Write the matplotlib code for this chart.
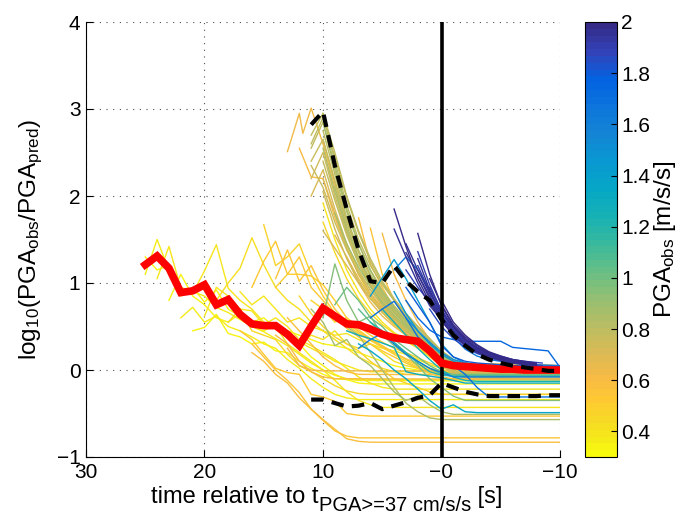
import matplotlib
matplotlib.use("Agg")
import matplotlib.pyplot as plt
from matplotlib.colors import LinearSegmentedColormap, Normalize
from matplotlib.cm import ScalarMappable

plt.rcParams['font.family'] = ['Liberation Sans', 'DejaVu Sans']
plt.rcParams['mathtext.default'] = 'regular'

# ---------------------------------------------------------------------------
# Station traces: (time [s], log10(PGA_obs/PGA_pred)) vertices, and PGA_obs [m/s/s]
# ---------------------------------------------------------------------------
navy_pga = [1.98, 1.95, 1.99, 1.92, 1.96, 1.90, 1.97, 1.88, 1.93, 1.99, 1.91, 1.87, 1.94, 1.89, 1.97, 1.95, 1.86, 1.98]
navy_paths = [
    [(4, 1.85), (3, 1.42), (2, 1.05), (1, 0.78), (0, 0.56), (-1, 0.40), (-2, 0.29), (-3, 0.21), (-4, 0.16), (-5, 0.12), (-6, 0.09), (-7, 0.07), (-8, 0.05)],
    [(4, 1.62), (3, 1.30), (2, 1.00), (1, 0.74), (0, 0.58), (-1, 0.42), (-2, 0.31), (-3, 0.23), (-4, 0.17), (-5, 0.13), (-6, 0.10), (-7, 0.08), (-8, 0.06)],
    [(2, 1.57), (1, 1.10), (0, 0.74), (-1, 0.50), (-2, 0.35), (-3, 0.25), (-4, 0.19), (-5, 0.14), (-6, 0.11), (-7, 0.09), (-8, 0.07)],
    [(2, 1.36), (1, 0.98), (0, 0.68), (-1, 0.46), (-2, 0.33), (-3, 0.24), (-4, 0.18), (-5, 0.13), (-6, 0.10), (-7, 0.08), (-8, 0.06)],
    [(2, 1.28), (1, 0.92), (0, 0.64), (-1, 0.44), (-2, 0.31), (-3, 0.22), (-4, 0.16), (-5, 0.12), (-6, 0.09), (-7, 0.07), (-8, 0.05)],
    [(2, 1.20), (1, 0.90), (0, 0.66), (-1, 0.50), (-2, 0.36), (-3, 0.26), (-4, 0.19), (-5, 0.14), (-6, 0.11), (-7, 0.09), (-8, 0.07)],
    [(3, 1.35), (2, 1.10), (1, 0.85), (0, 0.62), (-1, 0.44), (-2, 0.31), (-3, 0.23), (-4, 0.17), (-5, 0.13), (-6, 0.10), (-7, 0.08), (-8, 0.06)],
    [(3, 1.15), (2, 0.95), (1, 0.78), (0, 0.58), (-1, 0.40), (-2, 0.28), (-3, 0.20), (-4, 0.15), (-5, 0.11), (-6, 0.09), (-7, 0.07), (-8.5, 0.05)],
    [(1, 0.95), (0, 0.68), (-1, 0.46), (-2, 0.33), (-3, 0.24), (-4, 0.18), (-5, 0.13), (-6, 0.10), (-7, 0.08), (-8, 0.06)],
    [(1, 1.05), (0, 0.75), (-1, 0.52), (-2, 0.38), (-3, 0.28), (-4, 0.20), (-5, 0.15), (-6, 0.12), (-7, 0.09), (-8, 0.07)],
    [(1, 0.85), (0, 0.58), (-1, 0.40), (-2, 0.28), (-3, 0.20), (-4, 0.15), (-5, 0.11), (-6, 0.09), (-7, 0.07), (-8, 0.05)],
    [(1, 0.80), (0, 0.62), (-1, 0.44), (-2, 0.34), (-3, 0.26), (-4, 0.20), (-5, 0.16), (-6, 0.12), (-7, 0.10), (-8.5, 0.08)],
    [(0, 0.70), (-1, 0.48), (-2, 0.34), (-3, 0.25), (-4, 0.19), (-5, 0.14), (-6, 0.11), (-7, 0.08), (-8, 0.06)],
    [(0, 0.62), (-1, 0.40), (-2, 0.28), (-3, 0.20), (-4, 0.15), (-5, 0.12), (-6, 0.09), (-7, 0.07), (-8, 0.05)],
    [(2, 1.10), (1, 0.82), (0, 0.58), (-1, 0.40), (-2, 0.29), (-3, 0.21), (-4, 0.15), (-5, 0.11), (-6, 0.08), (-7, 0.06), (-8, 0.05)],
    [(3, 1.45), (2, 1.15), (1, 0.88), (0, 0.66), (-1, 0.50), (-2, 0.36), (-3, 0.26), (-4, 0.19), (-5, 0.14), (-6, 0.11), (-7, 0.09), (-8, 0.07)],
    [(1, 0.70), (0, 0.50), (-1, 0.36), (-2, 0.26), (-3, 0.19), (-4, 0.14), (-5, 0.11), (-6, 0.09), (-7.5, 0.07)],
    [(0, 0.80), (-1, 0.55), (-2, 0.40), (-3, 0.29), (-4, 0.21), (-5, 0.16), (-6, 0.12), (-7, 0.10), (-8, 0.08)],
]

blue_pga = [1.75, 1.70, 1.65, 1.80, 1.60]
blue_paths = [
    [(3, 0.80), (2, 0.60), (1, 0.46), (0, 0.38), (-1, 0.35), (-2, 0.33), (-5, 0.33), (-6, 0.26), (-9, 0.22), (-10, 0.03)],
    [(6, 0.60), (5, 0.70), (4, 0.79), (3, 0.60), (2, 0.38), (1, 0.25), (0, 0.12), (-1, 0.05), (-2, -0.05), (-3, -0.20), (-4, -0.31), (-10, -0.31)],
    [(4, 1.15), (3, 1.30), (2, 1.15), (1, 0.92), (0, 0.60), (-1, 0.38), (-2, 0.24), (-3, 0.16), (-4, 0.12), (-5, 0.10), (-6, 0.08), (-8, 0.06), (-10, 0.05)],
    [(3, 0.95), (2, 0.75), (1, 0.55), (0, 0.28), (-1, 0.15), (-2, 0.10), (-3, 0.08), (-4, 0.07), (-6, 0.05), (-10, 0.04)],
    [(7, 0.25), (6, 0.35), (5, 0.42), (4, 0.30), (3, 0.18), (2, 0.10), (1, 0.02), (0, -0.03), (-1, -0.08), (-10, -0.08)],
]

teal_pga = [1.42, 1.30, 1.35, 1.25, 1.45, 1.50, 1.20]
teal_paths = [
    [(6, 0.85), (5, 1.06), (4, 1.27), (3, 1.05), (2, 0.80), (1, 0.55), (0, 0.30), (-1, 0.15), (-2, 0.08), (-3, 0.05), (-5, 0.03), (-10, 0.02)],
    [(8, 0.45), (7, 0.40), (6, 0.36), (5, 0.31), (4, 0.26), (3, -0.02), (2, -0.05), (1, -0.07), (0, -0.09), (-1, -0.12), (-2, -0.15), (-10, -0.15)],
    [(7, 0.30), (6, 0.22), (5, 0.12), (4, 0.00), (3, -0.10), (2, -0.22), (1, -0.35), (0, -0.45), (-1, -0.40), (-2, -0.48), (-3, -0.49), (-10, -0.49)],
    [(5, 0.70), (4, 0.55), (3, 0.40), (2, 0.25), (1, 0.12), (0, 0.00), (-1, -0.08), (-2, -0.12), (-3, -0.13), (-10, -0.13)],
    [(4, 0.90), (3, 0.65), (2, 0.45), (1, 0.30), (0, 0.18), (-1, 0.10), (-2, 0.06), (-3, 0.04), (-6, 0.02), (-10, 0.01)],
    [(3, 0.60), (2, 0.45), (1, 0.32), (0, 0.20), (-1, 0.12), (-2, 0.08), (-4, 0.05), (-10, 0.03)],
    [(6, 0.55), (5, 0.45), (4, 0.32), (3, 0.20), (2, 0.08), (1, -0.02), (0, -0.06), (-1, -0.07), (-10, -0.07)],
]

olive_pga = [1.00, 0.95, 0.88, 0.85, 1.05]
olive_paths = [
    [(9, 0.75), (8, 0.95), (7, 0.80), (6, 0.60), (5, 0.50), (4, 0.35), (3, 0.25), (2, 0.15), (1, 0.05), (0, -0.02), (-1, -0.05), (-10, -0.05)],
    [(10, 0.60), (9, 1.22), (8, 0.80), (7, 0.55), (6, 0.62), (5, 0.40), (4, 0.28), (3, 0.18), (2, 0.05), (1, -0.10), (0, -0.20), (-1, -0.30), (-2, -0.35), (-10, -0.35)],
    [(11, 0.70), (10, 0.55), (9, 0.28), (8, 0.35), (7, 0.15), (6, 0.05), (5, -0.10), (4, -0.25), (3, -0.35), (2, -0.30), (1, -0.40), (0, -0.48), (-1, -0.51), (-10, -0.51)],
    [(8, 0.50), (7, 0.40), (6, 0.20), (5, 0.00), (4, -0.20), (3, -0.38), (2, -0.48), (1, -0.55), (0, -0.57), (-10, -0.57)],
    [(7, 0.70), (6, 0.55), (5, 0.42), (4, 0.30), (3, 0.20), (2, 0.10), (1, 0.02), (0, -0.05), (-1, -0.07), (-10, -0.07)],
]

tan_pga = [0.80, 0.78, 0.82, 0.76, 0.84, 0.74, 0.80, 0.72, 0.86, 0.78, 0.70, 0.82, 0.75, 0.88, 0.79,
           0.72, 0.68, 0.66, 0.77, 0.74]
tan_paths = [
    [(11, 2.70), (10, 2.95), (9, 2.40), (8, 1.90), (7, 1.50), (6, 1.20), (5, 0.98), (4, 0.80), (3, 0.64), (2, 0.50), (1, 0.36), (0, 0.22), (-1, 0.12), (-2, 0.06), (-3, 0.03), (-10, 0.02)],
    [(11, 2.55), (10, 2.85), (9, 2.30), (8, 1.82), (7, 1.45), (6, 1.15), (5, 0.92), (4, 0.74), (3, 0.58), (2, 0.45), (1, 0.32), (0, 0.18), (-1, 0.08), (-2, 0.02), (-3, -0.01), (-10, -0.02)],
    [(10, 2.75), (9, 2.25), (8, 1.75), (7, 1.38), (6, 1.10), (5, 0.88), (4, 0.70), (3, 0.55), (2, 0.42), (1, 0.30), (0, 0.15), (-1, 0.05), (-2, 0.00), (-10, -0.03)],
    [(11, 2.40), (10, 2.65), (9, 2.15), (8, 1.70), (7, 1.35), (6, 1.08), (5, 0.86), (4, 0.68), (3, 0.52), (2, 0.38), (1, 0.25), (0, 0.10), (-1, 0.00), (-2, -0.05), (-10, -0.06)],
    [(10, 2.55), (9, 2.05), (8, 1.62), (7, 1.28), (6, 1.02), (5, 0.82), (4, 0.66), (3, 0.52), (2, 0.40), (1, 0.28), (0, 0.14), (-1, 0.06), (-2, 0.02), (-10, 0.01)],
    [(11, 2.20), (10, 2.50), (9, 2.00), (8, 1.58), (7, 1.25), (6, 0.98), (5, 0.78), (4, 0.62), (3, 0.48), (2, 0.35), (1, 0.22), (0, 0.08), (-1, -0.02), (-2, -0.06), (-10, -0.08)],
    [(10, 2.40), (9, 1.95), (8, 1.55), (7, 1.22), (6, 0.96), (5, 0.76), (4, 0.60), (3, 0.46), (2, 0.34), (1, 0.22), (0, 0.10), (-1, 0.03), (-10, 0.00)],
    [(11, 2.00), (10, 2.30), (9, 1.85), (8, 1.45), (7, 1.15), (6, 0.92), (5, 0.74), (4, 0.58), (3, 0.45), (2, 0.32), (1, 0.20), (0, 0.06), (-1, -0.04), (-2, -0.08), (-10, -0.10)],
    [(10, 2.85), (9, 2.35), (8, 1.85), (7, 1.45), (6, 1.14), (5, 0.90), (4, 0.72), (3, 0.56), (2, 0.43), (1, 0.30), (0, 0.16), (-1, 0.07), (-2, 0.03), (-10, 0.02)],
    [(11, 2.60), (10, 2.90), (9, 2.45), (8, 1.98), (7, 1.58), (6, 1.25), (5, 1.00), (4, 0.80), (3, 0.62), (2, 0.48), (1, 0.34), (0, 0.20), (-1, 0.10), (-2, 0.04), (-10, 0.03)],
    [(10, 2.20), (9, 1.80), (8, 1.40), (7, 1.10), (6, 0.88), (5, 0.70), (4, 0.55), (3, 0.42), (2, 0.30), (1, 0.18), (0, 0.05), (-1, -0.05), (-2, -0.09), (-10, -0.11)],
    [(9, 2.10), (8, 1.66), (7, 1.30), (6, 1.04), (5, 0.84), (4, 0.67), (3, 0.53), (2, 0.40), (1, 0.28), (0, 0.12), (-1, 0.04), (-10, 0.00)],
    [(10, 2.65), (9, 2.18), (8, 1.72), (7, 1.36), (6, 1.08), (5, 0.87), (4, 0.70), (3, 0.55), (2, 0.41), (1, 0.27), (0, 0.12), (-1, 0.02), (-2, -0.03), (-10, -0.04)],
    [(9, 1.80), (8, 1.45), (7, 1.18), (6, 0.96), (5, 0.78), (4, 0.63), (3, 0.50), (2, 0.38), (1, 0.26), (0, 0.12), (-1, 0.05), (-10, 0.03)],
    [(10, 2.95), (9, 2.50), (8, 2.00), (7, 1.60), (6, 1.28), (5, 1.02), (4, 0.82), (3, 0.65), (2, 0.50), (1, 0.36), (0, 0.22), (-1, 0.12), (-2, 0.07), (-10, 0.05)],
    [(10, 1.60), (9, 1.40), (8, 1.20), (7, 1.00), (6, 0.82), (5, 0.68), (4, 0.55), (3, 0.44), (2, 0.34), (1, 0.22), (0, 0.08), (-1, -0.02), (-10, -0.06)],
    [(9, 1.55), (8, 1.30), (7, 1.05), (6, 0.85), (5, 0.70), (4, 0.56), (3, 0.45), (2, 0.32), (1, 0.20), (0, 0.06), (-1, -0.03), (-10, -0.05)],
    [(8, 1.30), (7, 1.00), (6, 0.78), (5, 0.62), (4, 0.50), (3, 0.40), (2, 0.30), (1, 0.18), (0, 0.04), (-10, -0.02)],
    [(11, 2.35), (10, 2.10), (9, 1.70), (8, 1.38), (7, 1.12), (6, 0.92), (5, 0.75), (4, 0.60), (3, 0.48), (2, 0.36), (1, 0.24), (0, 0.10), (-1, 0.02), (-10, -0.01)],
    [(10, 2.05), (9, 1.62), (8, 1.28), (7, 1.02), (6, 0.82), (5, 0.66), (4, 0.53), (3, 0.42), (2, 0.31), (1, 0.20), (0, 0.07), (-1, -0.02), (-10, -0.04)],
]

orange_pga = [0.62, 0.60, 0.58, 0.55, 0.60, 0.45, 0.42, 0.40]
orange_paths = [
    [(13, 2.51), (12, 2.95), (11.7, 2.72), (11, 3.01), (10, 2.60), (9, 2.10), (8, 1.60), (7, 1.25), (6, 1.00), (5, 0.80), (4, 0.65), (3, 0.52), (2, 0.40), (1, 0.28), (0, 0.15), (-1, 0.08), (-10, 0.05)],
    [(12, 2.55), (11, 2.22), (10, 2.20), (9, 1.75), (8, 1.40), (7, 1.10), (6, 0.88), (5, 0.72), (4, 0.58), (3, 0.46), (2, 0.35), (1, 0.24), (0, 0.12), (-1, 0.04), (-10, 0.00)],
    [(7, 1.75), (6, 1.22), (5, 0.95), (4, 0.70), (3, 0.50), (2, 0.35), (1, 0.22), (0, 0.10), (-1, 0.02), (-10, -0.01)],
    [(6, 1.63), (5, 1.10), (4, 0.80), (3, 0.58), (2, 0.40), (1, 0.26), (0, 0.12), (-1, 0.04), (-10, 0.02)],
    [(5, 1.57), (4, 1.10), (3, 0.80), (2, 0.55), (1, 0.35), (0, 0.18), (-1, 0.08), (-10, 0.05)],
    [(10, 1.70), (9, 1.35), (8, 1.05), (7, 0.82), (6, 0.65), (5, 0.52), (4, 0.42), (3, 0.33), (2, 0.25), (1, 0.15), (0, 0.05), (-1, -0.02), (-10, -0.05)],
    [(8, 1.45), (7, 1.10), (6, 0.85), (5, 0.66), (4, 0.52), (3, 0.40), (2, 0.30), (1, 0.18), (0, 0.06), (-1, -0.03), (-10, -0.06)],
    [(10, 1.92), (9, 1.50), (8, 1.15), (7, 0.90), (6, 0.70), (5, 0.55), (4, 0.43), (3, 0.34), (2, 0.26), (1, 0.16), (0, 0.06), (-1, 0.00), (-10, -0.02)],
]

yellow_pga = [0.36, 0.40, 0.34, 0.38, 0.42, 0.48, 0.52, 0.55, 0.50, 0.37, 0.33, 0.44,
              0.52, 0.56, 0.58, 0.40, 0.60, 0.62, 0.57, 0.46, 0.35, 0.39, 0.47, 0.43]
yellow_paths = [
    [(25, 1.10), (24, 1.50), (23, 1.14), (22, 0.95), (21, 0.90), (20, 0.85), (19, 0.72), (18, 0.66), (17, 0.58), (16, 0.50), (15, 0.44), (14, 0.36), (13, 0.28), (12, 0.18), (11, 0.08), (10, 0.00), (9, -0.06), (8, -0.10), (7, -0.12), (-10, -0.13)],
    [(24, 1.05), (23, 1.42), (22, 0.94), (21, 0.88), (20, 1.14), (19, 1.44), (18, 0.94), (17, 0.80), (16, 0.70), (15, 0.55), (14, 0.50), (13, 0.40), (12, 0.32), (11, 0.25), (10, 0.18), (9, 0.10), (8, 0.05), (7, 0.00), (6, -0.02), (-10, -0.01)],
    [(25, 1.30), (24, 1.15), (23, 1.20), (22, 0.85), (21, 0.95), (20, 0.78), (19, 0.92), (18, 0.70), (17, 0.62), (16, 0.55), (15, 0.60), (14, 0.48), (13, 0.38), (12, 0.30), (11, 0.15), (10, 0.05), (9, -0.05), (8, -0.11), (7, -0.15), (6, -0.16), (-10, -0.16)],
    [(20, 0.62), (19, 0.95), (18, 0.85), (17, 0.70), (16, 0.68), (15, 0.52), (14, 0.60), (13, 0.50), (12, 0.35), (11, 0.28), (10, 0.20), (9, 0.12), (8, 0.02), (7, -0.08), (6, -0.15), (5, -0.20), (4, -0.22), (-10, -0.22)],
    [(19, 0.80), (18, 1.00), (17, 1.17), (16, 1.52), (15, 1.21), (14, 0.95), (13, 0.80), (12, 0.70), (11, 0.55), (10, 0.45), (9, 0.35), (8, 0.25), (7, 0.15), (6, 0.08), (5, 0.02), (4, -0.02), (3, -0.05), (-10, -0.05)],
    [(15, 1.67), (14, 1.20), (13, 1.30), (12, 1.45), (11, 1.10), (10, 0.85), (9, 0.65), (8, 0.52), (7, 0.42), (6, 0.34), (5, 0.26), (4, 0.18), (3, 0.10), (2, 0.03), (1, -0.02), (0, -0.05), (-10, -0.06)],
    [(16, 0.95), (15, 1.25), (14, 1.48), (13, 1.10), (12, 1.30), (11, 0.95), (10, 0.80), (9, 0.62), (8, 0.48), (7, 0.38), (6, 0.30), (5, 0.22), (4, 0.15), (3, 0.08), (2, 0.02), (1, -0.04), (0, -0.08), (-1, -0.10), (-10, -0.11)],
    [(14, 1.05), (13, 1.38), (12, 1.02), (11, 1.20), (10, 0.92), (9, 0.70), (8, 0.55), (7, 0.44), (6, 0.35), (5, 0.27), (4, 0.20), (3, 0.13), (2, 0.07), (1, 0.02), (0, -0.02), (-1, -0.04), (-10, -0.05)],
    [(14, 0.95), (13, 1.10), (12, 1.10), (11, 1.08), (10, 0.98), (9, 0.80), (8, 0.60), (7, 0.46), (6, 0.36), (5, 0.28), (4, 0.20), (3, 0.12), (2, 0.05), (1, 0.00), (0, -0.04), (-10, -0.05)],
    [(22, 0.60), (21, 0.72), (20, 0.55), (19, 0.62), (18, 0.50), (17, 0.45), (16, 0.38), (15, 0.30), (14, 0.25), (13, 0.12), (12, 0.02), (11, -0.10), (10, -0.20), (9, -0.28), (8, -0.32), (7, -0.34), (-10, -0.34)],
    [(21, 0.45), (20, 0.49), (19, 0.64), (18, 0.42), (17, 0.38), (16, 0.30), (15, 0.32), (14, 0.22), (13, 0.20), (12, 0.10), (11, 0.02), (10, -0.05), (9, -0.10), (8, -0.11), (-10, -0.11)],
    [(18, 0.55), (17, 0.70), (16, 0.45), (15, 0.40), (14, 0.35), (13, 0.18), (12, 0.05), (11, -0.02), (10, -0.10), (9, -0.18), (8, -0.24), (7, -0.27), (6, -0.28), (-10, -0.28)],
    [(17, 0.45), (16, 0.35), (15, 0.18), (14, 0.02), (13, -0.03), (12, -0.05), (11, -0.28), (10, -0.31), (9, -0.36), (8, -0.50), (7, -0.52), (6, -0.53), (-10, -0.53)],
    [(16, 0.30), (15, 0.15), (14, 0.00), (13, -0.12), (12, -0.26), (11, -0.45), (10, -0.58), (9, -0.70), (8, -0.76), (7, -0.78), (-10, -0.78)],
    [(16, 0.20), (15, 0.10), (14, -0.05), (13, -0.15), (12, -0.32), (11, -0.45), (10, -0.57), (9, -0.68), (8, -0.79), (7, -0.82), (6, -0.83), (-10, -0.83)],
    [(15, 0.55), (14, 0.50), (13, 0.30), (12, 0.20), (11, 0.10), (10, 0.00), (9, -0.12), (8, -0.25), (7, -0.35), (6, -0.40), (5, -0.43), (-10, -0.43)],
    [(14, 0.40), (13, 0.30), (12, 0.10), (11, -0.02), (10, -0.08), (9, -0.10), (8, -0.10), (-10, -0.11)],
    [(13, 0.25), (12, 0.05), (11, 0.00), (10, -0.01), (-10, -0.01)],
    [(13, 0.60), (12, 0.45), (11, 0.30), (10, 0.15), (9, 0.05), (8, -0.02), (7, -0.05), (-10, -0.06)],
    [(12, 0.85), (11, 0.65), (10, 0.50), (9, 0.38), (8, 0.30), (7, 0.22), (6, 0.10), (5, 0.00), (4, -0.10), (3, -0.15), (2, -0.20), (1, -0.25), (0, -0.28), (-10, -0.28)],
    [(23, 0.80), (22, 1.10), (21, 0.85), (20, 0.75), (19, 0.60), (18, 0.55), (17, 0.65), (16, 0.50), (15, 0.45), (14, 0.52), (13, 0.45), (12, 0.40), (11, 0.35), (10, 0.30), (9, 0.28), (8, 0.25), (7, 0.20), (6, 0.15), (5, 0.10), (4, 0.05), (3, 0.02), (2, 0.00), (-10, -0.01)],
    [(17, 0.90), (16, 0.75), (15, 0.85), (14, 0.70), (13, 0.55), (12, 0.60), (11, 0.50), (10, 0.45), (9, 0.40), (8, 0.42), (7, 0.35), (6, 0.30), (5, 0.25), (4, 0.22), (3, 0.18), (2, 0.12), (1, 0.06), (0, 0.02), (-10, 0.00)],
    [(11, 0.80), (10, 0.70), (9, 0.55), (8, 0.60), (7, 0.50), (6, 0.40), (5, 0.32), (4, 0.25), (3, 0.20), (2, 0.14), (1, 0.08), (0, 0.03), (-10, 0.02)],
    [(12, 0.30), (11, 0.40), (10, 0.35), (9, 0.45), (8, 0.30), (7, 0.25), (6, 0.30), (5, 0.20), (4, 0.10), (3, 0.05), (2, 0.02), (1, 0.00), (0, -0.03), (-10, -0.04)],
]

# Median and percentile curves
median_t = [25, 24, 23, 22, 21, 20, 19, 18, 17, 16, 15, 14, 13, 12, 11, 10, 9, 8, 7, 6, 5, 4, 3, 2, 1, 0,
            -1, -2, -3, -4, -5, -6, -7, -8, -9, -10]
median_v = [1.21, 1.31, 1.17, 0.89, 0.91, 0.98, 0.75, 0.81, 0.64, 0.53, 0.51, 0.51, 0.41, 0.28, 0.50, 0.71,
            0.62, 0.53, 0.52, 0.47, 0.41, 0.37, 0.35, 0.33, 0.22, 0.08, 0.05, 0.04, 0.03, 0.02, 0.01, 0.01,
            0.00, 0.00, 0.00, 0.00]
pct_t = [11, 10, 9, 8, 7, 6, 5, 4, 3, 2, 1, 0, -1, -2, -3, -4, -5, -6, -7, -8, -9, -10]
upper_v = [2.82, 2.97, 2.35, 1.85, 1.38, 1.02, 1.00, 1.20, 1.02, 0.90, 0.80, 0.58, 0.40, 0.28, 0.18, 0.12,
           0.08, 0.05, 0.03, 0.01, -0.01, -0.01]
lower_v = [-0.34, -0.34, -0.38, -0.42, -0.41, -0.38, -0.45, -0.41, -0.37, -0.32, -0.29, -0.15, -0.20, -0.25,
           -0.28, -0.30, -0.30, -0.30, -0.30, -0.30, -0.29, -0.29]

x_ticks = [30, 20, 10, 0, -10]
x_ticklabels = ['30', '20', '10', '\u22120', '\u221210']
y_ticks = [-1, 0, 1, 2, 3, 4]
y_ticklabels = ['\u22121', '0', '1', '2', '3', '4']
cbar_ticks = [0.4, 0.6, 0.8, 1.0, 1.2, 1.4, 1.6, 1.8, 2.0]
cbar_ticklabels = ['0.4', '0.6', '0.8', '1', '1.2', '1.4', '1.6', '1.8', '2']

# Parula-like colour map, flipped so that weak shaking is yellow and strong is navy
parula_anchors = [
    (0 / 63, (0.2081, 0.1663, 0.5292)), (4 / 63, (0.1959, 0.2645, 0.7279)),
    (8 / 63, (0.0117, 0.3875, 0.8820)), (12 / 63, (0.0498, 0.4586, 0.8641)),
    (16 / 63, (0.0793, 0.5200, 0.8312)), (20 / 63, (0.0343, 0.5966, 0.8199)),
    (24 / 63, (0.0228, 0.6535, 0.7768)), (28 / 63, (0.0843, 0.6928, 0.7062)),
    (32 / 63, (0.2178, 0.7250, 0.6193)), (36 / 63, (0.3953, 0.7459, 0.5244)),
    (40 / 63, (0.5709, 0.7485, 0.4494)), (44 / 63, (0.7184, 0.7411, 0.3905)),
    (48 / 63, (0.8507, 0.7299, 0.3360)), (52 / 63, (0.9739, 0.7314, 0.2666)),
    (55 / 63, (0.9955, 0.7861, 0.1967)), (58 / 63, (0.9697, 0.8481, 0.1475)),
    (61 / 63, (0.9598, 0.9218, 0.0948)), (63 / 63, (0.9763, 0.9831, 0.0538)),
]
parula_r = LinearSegmentedColormap.from_list('parula', parula_anchors, N=64).reversed()
norm = Normalize(vmin=0.3, vmax=2.0)

W, H = 683, 515
fig = plt.figure(figsize=(W / 100, H / 100), dpi=100)
ax = fig.add_axes([86 / W, 58 / H, 474 / W, 435 / H])
cax = fig.add_axes([585 / W, 58 / H, 32 / W, 435 / H])

# thin station traces, low PGA first so the strongest records sit on top
all_traces = []
for pgas, paths in [(yellow_pga, yellow_paths), (orange_pga, orange_paths), (tan_pga, tan_paths),
                    (olive_pga, olive_paths), (teal_pga, teal_paths), (blue_pga, blue_paths),
                    (navy_pga, navy_paths)]:
    all_traces.extend(zip(pgas, paths))
all_traces.sort(key=lambda item: item[0])
for pga, path in all_traces:
    ts = [p[0] for p in path]
    vs = [p[1] for p in path]
    ax.plot(ts, vs, color=parula_r(norm(pga)), lw=1.0, zorder=2)

ax.axvline(0, color='black', lw=2.6, zorder=3)
ax.plot(median_t, median_v, color='red', lw=5.5, zorder=4, solid_joinstyle='miter')
ax.plot(pct_t, upper_v, color='black', lw=3.0, ls=(0, (3, 2)), zorder=5)
ax.plot(pct_t, lower_v, color='black', lw=3.0, ls=(0, (3, 2)), zorder=5)

ax.set_xlim(30, -10)
ax.set_ylim(-1, 4)
ax.set_xticks(x_ticks)
ax.set_xticklabels(x_ticklabels)
ax.set_yticks(y_ticks)
ax.set_yticklabels(y_ticklabels)
ax.grid(True, color='0.3', lw=0.8, ls=(0, (1, 5)))
ax.set_axisbelow(True)
for side in ('top', 'right'):
    ax.spines[side].set_visible(False)
ax.tick_params(direction='in', length=5, labelsize=15, pad=4)
ax.set_ylabel('log$_{10}$(PGA$_{obs}$/PGA$_{pred}$)', fontsize=17.5, labelpad=8)

# x label with a large, low subscript, laid out piece by piece
label_pieces = [('time relative to t', 17, 0), ('PGA>=37 cm/s/s', 14.5, -8), (' [s]', 17, 0)]
renderer = fig.canvas.get_renderer()
texts = []
for s, size, dy in label_pieces:
    t = fig.text(0, 0, s, fontsize=size, ha='left', va='baseline')
    texts.append((t, dy))
widths = [t.get_window_extent(renderer).width for t, _ in texts]
x_center = (86 + 560) / 2 + 4
x = x_center - sum(widths) / 2
baseline = H - 503
for (t, dy), w in zip(texts, widths):
    t.set_position((x / W, (baseline + dy) / H))
    x += w

cb = fig.colorbar(ScalarMappable(norm=norm, cmap=parula_r), cax=cax)
cb.set_ticks(cbar_ticks)
cb.set_ticklabels(cbar_ticklabels)
cb.outline.set_linewidth(0.8)
cax.tick_params(direction='in', length=4, labelsize=15, pad=3)
cb.set_label('PGA$_{obs}$ [m/s/s]', fontsize=17.5, labelpad=1)

fig.savefig('out.png', dpi=100)
